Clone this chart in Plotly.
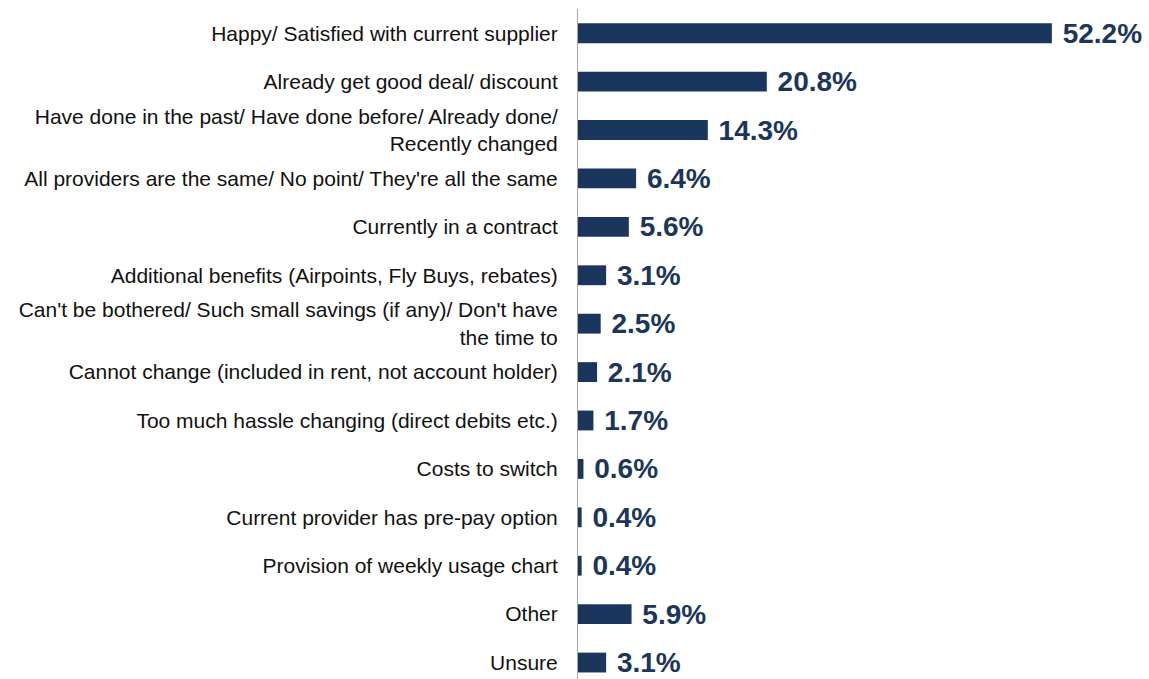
import plotly.graph_objects as go

reasons = [
    "Happy/ Satisfied with current supplier",
    "Already get good deal/ discount",
    "Have done in the past/ Have done before/ Already done/<br>Recently changed",
    "All providers are the same/ No point/ They're all the same",
    "Currently in a contract",
    "Additional benefits (Airpoints, Fly Buys, rebates)",
    "Can't be bothered/ Such small savings (if any)/ Don't have<br>the time to",
    "Cannot change (included in rent, not account holder)",
    "Too much hassle changing (direct debits etc.)",
    "Costs to switch",
    "Current provider has pre-pay option",
    "Provision of weekly usage chart",
    "Other",
    "Unsure",
]
shares = [52.2, 20.8, 14.3, 6.4, 5.6, 3.1, 2.5, 2.1, 1.7, 0.6, 0.4, 0.4, 5.9, 3.1]

navy = "#1B365D"
positions = list(range(len(reasons)))

fig = go.Figure(
    go.Bar(
        x=shares,
        y=positions,
        orientation="h",
        width=0.41,
        marker=dict(color=navy, line=dict(width=0)),
        text=[f"{v:.1f}%" for v in shares],
        texttemplate=" %{text}",
        textposition="outside",
        constraintext="none",
        cliponaxis=False,
        textfont=dict(family="Liberation Sans, Arial, sans-serif", size=28, color=navy, weight="bold"),
    )
)

fig.update_layout(
    width=1149,
    height=679,
    margin=dict(l=578, r=0, t=9, b=0),
    plot_bgcolor="white",
    paper_bgcolor="white",
    showlegend=False,
    font=dict(family="Liberation Sans, Arial, sans-serif", size=21, color="#111111"),
    xaxis=dict(range=[0, 62.9], visible=False, showgrid=False, zeroline=False),
    yaxis=dict(
        range=[13.34, -0.5],
        tickvals=positions,
        ticktext=reasons,
        showline=True,
        linecolor="#A6A6A6",
        linewidth=1,
        showgrid=False,
        zeroline=False,
        ticks="",
        ticklabelstandoff=15,
        tickfont=dict(size=21, color="#111111"),
    ),
)

fig.write_html("out.html")
